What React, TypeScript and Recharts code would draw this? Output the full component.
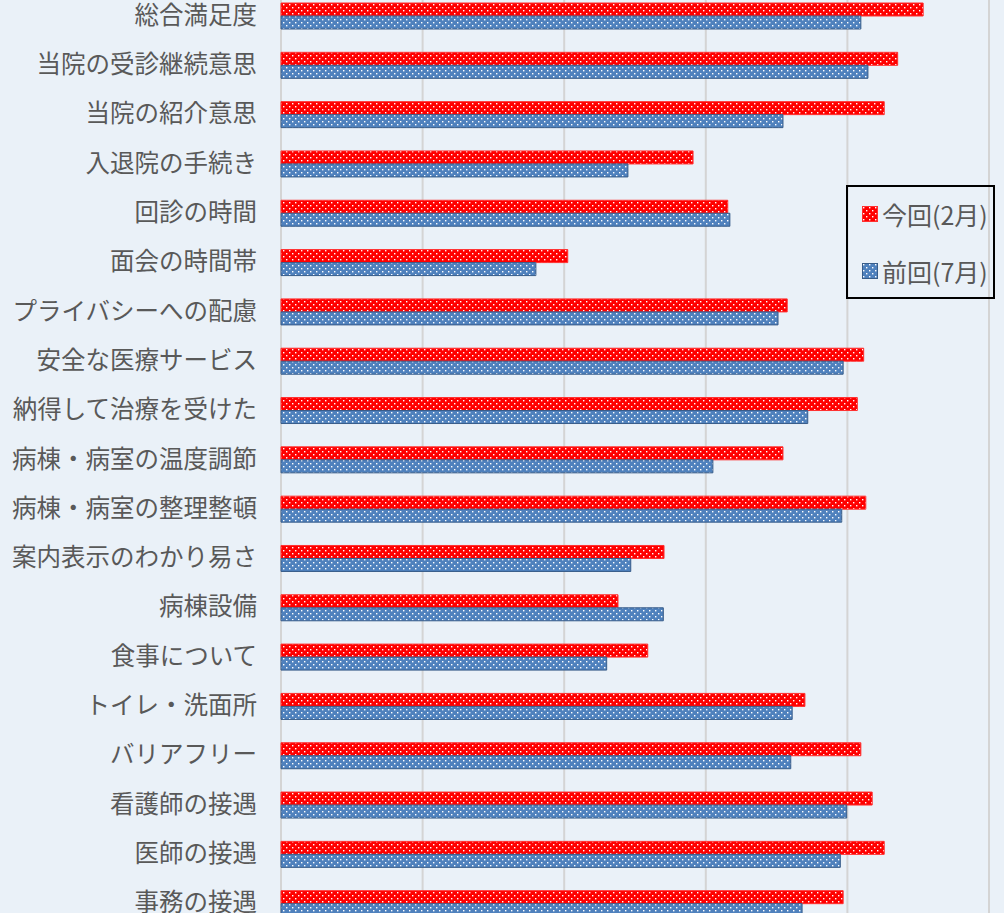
import React from "react";
import { BarChart, Bar, XAxis, YAxis, CartesianGrid } from "recharts";

const categories = [
  "総合満足度",
  "当院の受診継続意思",
  "当院の紹介意思",
  "入退院の手続き",
  "回診の時間",
  "面会の時間帯",
  "プライバシーへの配慮",
  "安全な医療サービス",
  "納得して治療を受けた",
  "病棟・病室の温度調節",
  "病棟・病室の整理整頓",
  "案内表示のわかり易さ",
  "病棟設備",
  "食事について",
  "トイレ・洗面所",
  "バリアフリー",
  "看護師の接遇",
  "医師の接遇",
  "事務の接遇",
];

// 今回(2月)
const currentValues = [
  90.7, 87.1, 85.2, 58.2, 63.1, 40.5, 71.5, 82.3, 81.4, 70.9, 82.6, 54.1, 47.6,
  51.8, 74.0, 81.9, 83.5, 85.2, 79.4,
];

// 前回(7月)
const previousValues = [
  81.9, 82.9, 70.9, 49.0, 63.4, 36.0, 70.2, 79.4, 74.4, 61.0, 79.2, 49.4, 54.0,
  46.0, 72.2, 72.0, 79.9, 79.0, 73.6,
];

const seriesNames = ["今回(2月)", "前回(7月)"];
const xTicks = [0, 20, 40, 60, 80, 100];

const data = categories.map((name, i) => ({
  name,
  current: currentValues[i],
  previous: previousValues[i],
}));

const FONT = '"Noto Sans CJK JP", "Noto Sans", sans-serif';
const TEXT = "#595959";

function CategoryTick({ x, y, payload }: any) {
  return (
    <text
      x={x - 16}
      y={y}
      dy={8}
      textAnchor="end"
      fontSize={24.5}
      fill={TEXT}
      fontFamily={FONT}
    >
      {payload.value}
    </text>
  );
}

function LegendBox() {
  const items = [
    { label: seriesNames[0], fill: "url(#dotRed)", stroke: "#ff3030" },
    { label: seriesNames[1], fill: "url(#dotBlue)", stroke: "#385d8a" },
  ];
  return (
    <div
      style={{
        position: "absolute",
        left: 846,
        top: 185,
        width: 145,
        height: 110,
        border: "2px solid #000",
        fontFamily: FONT,
        color: TEXT,
        fontSize: 25,
      }}
    >
      {items.map((it, i) => (
        <div
          key={it.label}
          style={{
            display: "flex",
            alignItems: "center",
            height: 30,
            marginTop: i === 0 ? 12 : 27,
            marginLeft: 14,
            whiteSpace: "nowrap",
          }}
        >
          <svg width={17} height={17} style={{ marginRight: 3, flex: "none" }}>
            <rect
              x={0.5}
              y={0.5}
              width={15}
              height={15}
              fill={it.fill}
              stroke={it.stroke}
            />
          </svg>
          <span>{it.label}</span>
        </div>
      ))}
    </div>
  );
}

export default function App() {
  return (
    <div
      style={{
        position: "absolute",
        left: 0,
        top: 0,
        width: 1004,
        height: 913,
        overflow: "hidden",
        background: "#eaf1f8",
      }}
    >
      <div style={{ position: "absolute", left: 0, top: -9 }}>
        <BarChart
          width={1004}
          height={937}
          data={data}
          layout="vertical"
          margin={{ top: 0, right: 15, bottom: 0, left: 0 }}
          barGap={0}
        >
          <defs>
            <pattern
              id="dotRed"
              width="6"
              height="6"
              patternUnits="userSpaceOnUse"
            >
              <rect width="6" height="6" fill="#ff0000" />
              <rect x="1" y="1" width="1.4" height="1.4" fill="#ffffff" />
              <rect x="4" y="4" width="1.4" height="1.4" fill="#ffffff" />
            </pattern>
            <pattern
              id="dotBlue"
              width="6"
              height="6"
              patternUnits="userSpaceOnUse"
            >
              <rect width="6" height="6" fill="#4f81bd" />
              <rect x="1" y="1" width="1.4" height="1.4" fill="#ffffff" />
              <rect x="4" y="4" width="1.4" height="1.4" fill="#ffffff" />
            </pattern>
          </defs>
          <CartesianGrid
            horizontal={false}
            stroke="#d4d4d4"
            strokeWidth={2}
          />
          <XAxis type="number" domain={[0, 100]} ticks={xTicks} hide />
          <YAxis
            type="category"
            dataKey="name"
            width={281}
            axisLine={false}
            tickLine={false}
            tick={<CategoryTick />}
            interval={0}
          />
          <Bar
            dataKey="current"
            name={seriesNames[0]}
            fill="url(#dotRed)"
            stroke="#ff3030"
            strokeWidth={1}
            barSize={13}
            isAnimationActive={false}
          />
          <Bar
            dataKey="previous"
            name={seriesNames[1]}
            fill="url(#dotBlue)"
            stroke="#385d8a"
            strokeWidth={1}
            barSize={13}
            isAnimationActive={false}
          />
        </BarChart>
      </div>
      <LegendBox />
    </div>
  );
}
